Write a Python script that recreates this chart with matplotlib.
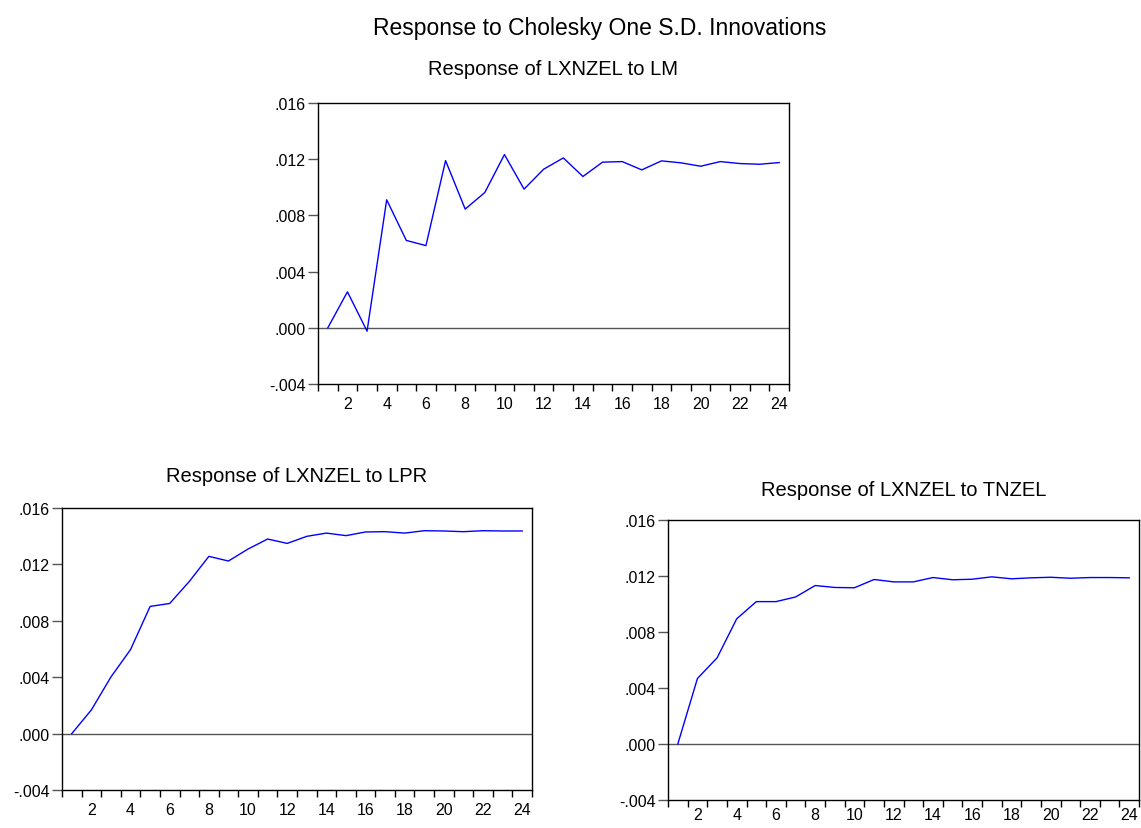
import numpy as np
import matplotlib.pyplot as plt
from matplotlib.ticker import FixedLocator, FuncFormatter

plt.rcParams['font.family'] = ['Liberation Sans', 'DejaVu Sans']

periods = np.arange(1, 25)

resp_lm = [0.0, 0.00256, -0.00024, 0.00911, 0.00622, 0.00585, 0.0119, 0.00845,
           0.00963, 0.01233, 0.00987, 0.01129, 0.01209, 0.01077, 0.01179, 0.01183,
           0.01124, 0.01188, 0.01174, 0.0115, 0.01183, 0.01169, 0.01164, 0.01176]

resp_lpr = [0.0, 0.00168, 0.00402, 0.00596, 0.00902, 0.00923, 0.01079, 0.01257,
            0.01224, 0.01309, 0.0138, 0.01349, 0.01399, 0.01422, 0.01404, 0.0143,
            0.01432, 0.01422, 0.01439, 0.01437, 0.01432, 0.01439, 0.01437, 0.01437]

resp_tnzel = [0.0, 0.00468, 0.00615, 0.00894, 0.01017, 0.01017, 0.0105, 0.01132,
              0.01118, 0.01116, 0.01175, 0.01158, 0.01158, 0.01189, 0.01173, 0.01177,
              0.01194, 0.0118, 0.01187, 0.01191, 0.01184, 0.01189, 0.01189, 0.01187]

y_ticks = [-0.004, 0.000, 0.004, 0.008, 0.012, 0.016]
x_labels = list(range(2, 25, 2))

W, H = 1141, 829
fig = plt.figure(figsize=(W / 100, H / 100), dpi=100)


def fmt(v, pos):
    s = '%.3f' % v
    if s.startswith('-0'):
        return '-' + s[2:]
    if s.startswith('0'):
        return s[1:]
    return s


def panel(left, top, right, bottom, data, title, title_base, xpad=9):
    ax = fig.add_axes([left / W, 1 - bottom / H, (right - left) / W, (bottom - top) / H])
    ax.plot(periods, data, color='#0000ff', lw=1.0)
    ax.axhline(0, color='#555555', lw=1.0, zorder=1)
    ax.set_xlim(0.5, 24.5)
    ax.set_ylim(-0.004, 0.016)
    ax.yaxis.set_major_locator(FixedLocator(y_ticks))
    ax.yaxis.set_major_formatter(FuncFormatter(fmt))
    ax.xaxis.set_major_locator(FixedLocator(x_labels))
    ax.xaxis.set_minor_locator(FixedLocator(np.arange(0.5, 25, 1)))
    ax.tick_params(axis='x', which='major', length=0, pad=xpad, labelsize=11.5)
    ax.tick_params(axis='x', which='minor', length=5, width=1, direction='out')
    ax.tick_params(axis='y', length=7, width=1, direction='out', color='#555555',
                   pad=2, labelsize=11.5)
    for s in ax.spines.values():
        s.set_linewidth(1.0)
        s.set_color('black')
    fig.text((left + right) / 2 / W, 1 - title_base / H, title, ha='center',
             va='baseline', fontsize=14.5)
    return ax


fig.text(600 / W, 1 - 35 / H, 'Response to Cholesky One S.D. Innovations',
         ha='center', va='baseline', fontsize=16.5)

panel(318, 104, 789, 385, resp_lm, 'Response of LXNZEL to LM', 75)
panel(62, 509, 532, 791, resp_lpr, 'Response of LXNZEL to LPR', 482)
panel(668, 521, 1139, 801, resp_tnzel, 'Response of LXNZEL to TNZEL', 496, xpad=5)

fig.savefig('out.png', dpi=100)
